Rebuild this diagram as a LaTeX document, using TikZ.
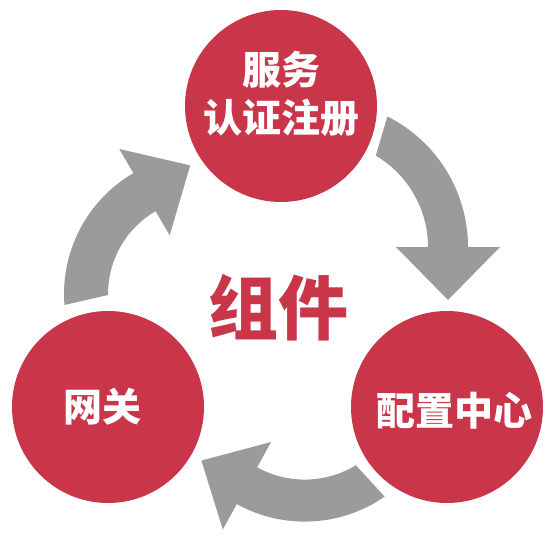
\documentclass[tikz,border=0pt]{standalone}
\usepackage{fontspec}
\newfontfamily\cjk{Noto Sans CJK SC}
\usetikzlibrary{calc}
\definecolor{partred}{RGB}{201,54,74}
\definecolor{flowgray}{RGB}{155,155,155}

\begin{document}
\begin{tikzpicture}[
    x=1pt, y=1pt,
    part/.style={circle, fill=partred, minimum size=192pt, inner sep=0pt},
    partname/.style={text=white, align=center, inner sep=0pt, font=\cjk\bfseries\fontsize{39}{48}\selectfont},
    flow/.style={fill=flowgray},
]
    \useasboundingbox (0,0) rectangle (548,-537);

    % the three components
    \node[part] (reg) at (281,-106) {};
    \node[part] (gate) at (108,-407) {};
    \node[part] (conf) at (447,-407) {};
    \node[partname] (regname) at ([yshift=12]reg.center) {服务\\认证注册};
    \node[partname] (gatename) at ([xshift=-6]gate.center) {网关};
    \node[partname] (confname) at ([xshift=7,yshift=-4]conf.center) {配置中心};

    \node[text=partred, inner sep=0pt, font=\cjk\bfseries\fontsize{70}{70}\selectfont] (title) at (278,-308) {组件};

    % cycle arrows
    \coordinate (o1) at (322,-247);
    \coordinate (o2) at (204,-294);
    \coordinate (o3) at (304.7,-381.1);

    \fill[flow] ($(o1)+(63.4:146)$) arc[start angle=63.4, end angle=0, radius=146]
        -- ($(o1)+(0:178)$) -- ($(o1)+(0:126)+(-90:53)$) -- ($(o1)+(0:74)$)
        -- ($(o1)+(0:106)$) arc[start angle=0, end angle=59.5, radius=106] -- cycle;

    \fill[flow] ($(o3)+(-55.3:140.5)$) arc[start angle=-55.3, end angle=-118.9, radius=140.5]
        -- ($(o3)+(-118.9:169.5)$) -- ($(o3)+(-118.9:119.5)+(151.1:52)$) -- ($(o3)+(-118.9:69.5)$)
        -- ($(o3)+(-118.9:98.5)$) arc[start angle=-118.9, end angle=-58.7, radius=98.5] -- cycle;

    \fill[flow] ($(o2)+(184.5:140)$) arc[start angle=184.5, end angle=120.3, radius=140]
        -- ($(o2)+(120.3:168)$) -- ($(o2)+(120.3:118)+(30.3:53)$) -- ($(o2)+(120.3:68)$)
        -- ($(o2)+(120.3:96)$) arc[start angle=120.3, end angle=180.6, radius=96] -- cycle;
\end{tikzpicture}
\end{document}
